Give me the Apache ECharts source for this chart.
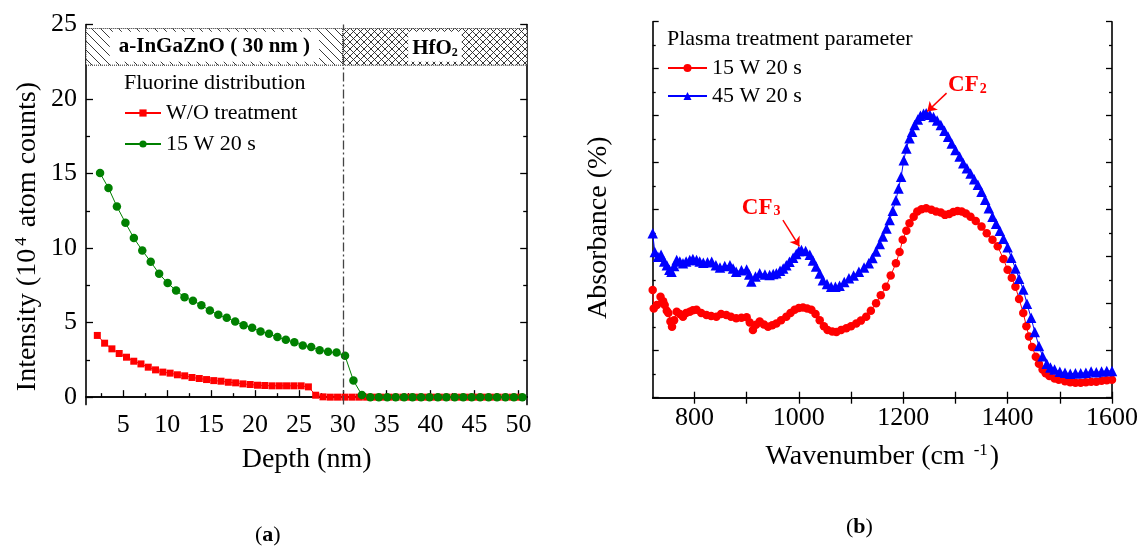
<!DOCTYPE html>
<html>
<head>
<meta charset="utf-8">
<script src="https://cdn.jsdelivr.net/npm/echarts@6/dist/echarts.min.js"></script>
<style>
html, body { margin: 0; background: #fff; }
#main { width: 1141px; height: 546px; }
</style>
</head>
<body>
<div id="main"></div>
<script>
// (a) fluorine depth profile
var depthWO = [2.04, 2.87, 3.70, 4.53, 5.36, 6.19, 7.01, 7.84, 8.67, 9.50, 10.33, 11.16, 11.99, 12.82, 13.65, 14.48, 15.30, 16.13, 16.96, 17.79,
    18.62, 19.45, 20.28, 21.11, 21.94, 22.77, 23.59, 24.42, 25.25, 26.08, 26.91, 27.74, 28.57, 29.40, 30.23, 31.06, 31.88, 32.71, 33.54, 34.37,
    35.20, 36.03, 36.86, 37.69, 38.52, 39.35, 40.17, 41.00, 41.83, 42.66, 43.49, 44.32, 45.15, 45.98, 46.81, 47.64, 48.46, 49.29, 50.12];
var intensityWO = [4.14, 3.62, 3.24, 2.93, 2.68, 2.41, 2.23, 2.01, 1.83, 1.68, 1.61, 1.50, 1.43, 1.32, 1.25, 1.18, 1.11, 1.07, 1.00, 0.96,
    0.89, 0.85, 0.80, 0.78, 0.76, 0.76, 0.76, 0.76, 0.76, 0.69, 0.13, 0.02, 0, 0, 0, 0, 0, 0, 0, 0,
    0, 0, 0, 0, 0, 0, 0, 0, 0, 0, 0, 0, 0, 0, 0, 0, 0, 0, 0];
var depth15 = [2.35, 3.31, 4.27, 5.24, 6.20, 7.16, 8.12, 9.08, 10.05, 11.01, 11.97, 12.93, 13.89, 14.86, 15.82, 16.78, 17.74, 18.70, 19.67, 20.63,
    21.59, 22.55, 23.51, 24.48, 25.44, 26.40, 27.36, 28.32, 29.29, 30.25, 31.21, 32.17, 33.13, 34.10, 35.06, 36.02, 36.98, 37.94, 38.91, 39.87,
    40.83, 41.79, 42.75, 43.72, 44.68, 45.64, 46.60, 47.56, 48.53, 49.49, 50.45];
var intensity15 = [15.03, 14.03, 12.79, 11.70, 10.67, 9.84, 9.08, 8.28, 7.65, 7.15, 6.71, 6.46, 6.17, 5.81, 5.52, 5.32, 5.07, 4.83, 4.65, 4.40,
    4.25, 4.03, 3.85, 3.69, 3.46, 3.36, 3.15, 3.04, 2.99, 2.77, 1.11, 0.15, 0, 0, 0, 0, 0, 0, 0, 0,
    0, 0, 0, 0, 0, 0, 0, 0, 0, 0, 0];
var depthTicks = [5, 10, 15, 20, 25, 30, 35, 40, 45, 50];
var depthMinor = [2.5, 7.5, 12.5, 17.5, 22.5, 27.5, 32.5, 37.5, 42.5, 47.5];
var intensityTicks = [0, 5, 10, 15, 20, 25];
var intensityMinor = [2.5, 7.5, 12.5, 17.5, 22.5];

// (b) FTIR absorbance
var wave15 = [720, 722, 728, 735, 740, 743, 747, 750, 754, 757, 761, 766, 772, 778, 784, 791, 797, 804, 813, 823,
    832, 842, 851, 861, 870, 880, 890, 900, 906, 912, 918, 925, 933, 941, 949, 957, 966, 976, 984, 992,
    1000, 1008, 1016, 1024, 1032, 1040, 1048, 1055, 1064, 1072, 1081, 1091, 1100, 1110, 1119, 1129, 1138, 1148, 1157, 1167,
    1176, 1186, 1193, 1199, 1206, 1212, 1220, 1227, 1235, 1244, 1254, 1263, 1272, 1280, 1288, 1296, 1304, 1312, 1320, 1329,
    1339, 1350, 1360, 1371, 1381, 1392, 1400, 1408, 1415, 1422, 1430, 1436, 1441, 1447, 1454, 1460, 1467, 1473, 1480, 1490,
    1498, 1510, 1520, 1530, 1540, 1550, 1560, 1570, 1580, 1590, 1600];
var abs15 = [2.29, 1.90, 1.97, 2.15, 2.05, 1.97, 1.85, 1.80, 1.62, 1.51, 1.65, 1.83, 1.78, 1.72, 1.80, 1.83, 1.86, 1.87, 1.80, 1.76,
    1.74, 1.72, 1.78, 1.76, 1.72, 1.69, 1.70, 1.71, 1.60, 1.44, 1.55, 1.62, 1.56, 1.51, 1.54, 1.58, 1.65, 1.72, 1.80, 1.87,
    1.91, 1.92, 1.90, 1.87, 1.78, 1.65, 1.52, 1.44, 1.41, 1.40, 1.44, 1.48, 1.52, 1.58, 1.64, 1.72, 1.85, 2.01, 2.18, 2.36,
    2.60, 2.86, 3.10, 3.36, 3.55, 3.71, 3.85, 3.96, 4.01, 4.03, 4.00, 3.96, 3.94, 3.89, 3.91, 3.95, 3.97, 3.96, 3.92, 3.85,
    3.76, 3.64, 3.50, 3.36, 3.22, 2.95, 2.72, 2.55, 2.36, 2.10, 1.80, 1.52, 1.30, 1.08, 0.87, 0.72, 0.60, 0.52, 0.46, 0.41,
    0.38, 0.35, 0.33, 0.32, 0.32, 0.33, 0.34, 0.34, 0.36, 0.37, 0.38];
var wave45 = [720, 724, 730, 736, 742, 747, 752, 756, 761, 766, 772, 778, 784, 791, 797, 804, 810, 817, 825, 833,
    841, 849, 858, 868, 874, 880, 890, 900, 905, 909, 917, 925, 935, 944, 951, 957, 964, 970, 976, 982,
    989, 995, 1000, 1005, 1013, 1021, 1027, 1033, 1040, 1046, 1054, 1062, 1070, 1078, 1087, 1096, 1105, 1115, 1125, 1134,
    1141, 1148, 1155, 1161, 1168, 1174, 1180, 1186, 1191, 1196, 1201, 1206, 1212, 1217, 1222, 1228, 1233, 1239, 1244, 1251,
    1258, 1265, 1272, 1279, 1286, 1293, 1300, 1308, 1315, 1322, 1329, 1336, 1343, 1350, 1357, 1364, 1371, 1378, 1385, 1392,
    1400, 1407, 1415, 1422, 1430, 1437, 1445, 1452, 1460, 1467, 1475, 1482, 1490, 1500, 1510, 1520, 1530, 1540, 1550, 1560,
    1570, 1580, 1590, 1600];
var abs45 = [3.50, 3.10, 3.00, 3.04, 2.90, 2.82, 2.72, 2.68, 2.80, 2.93, 2.90, 2.86, 2.90, 2.93, 2.95, 2.93, 2.90, 2.87, 2.88, 2.89,
    2.82, 2.77, 2.80, 2.82, 2.75, 2.68, 2.71, 2.73, 2.62, 2.47, 2.58, 2.65, 2.62, 2.61, 2.63, 2.65, 2.70, 2.75, 2.82, 2.89,
    2.98, 3.06, 3.12, 3.14, 3.12, 3.04, 2.92, 2.79, 2.64, 2.50, 2.42, 2.36, 2.36, 2.38, 2.46, 2.54, 2.60, 2.68, 2.77, 2.86,
    2.97, 3.11, 3.27, 3.43, 3.60, 3.78, 3.98, 4.20, 4.45, 4.70, 5.05, 5.30, 5.52, 5.66, 5.80, 5.92, 6.00, 6.04, 6.05, 6.02,
    5.97, 5.90, 5.80, 5.68, 5.55, 5.41, 5.27, 5.13, 4.99, 4.88, 4.77, 4.65, 4.53, 4.38, 4.21, 4.03, 3.85, 3.70, 3.55, 3.38,
    3.20, 2.98, 2.75, 2.53, 2.30, 2.00, 1.70, 1.40, 1.10, 0.88, 0.72, 0.64, 0.60, 0.55, 0.53, 0.51, 0.52, 0.52, 0.53, 0.56,
    0.54, 0.56, 0.57, 0.57];
var waveTicks = [800, 900, 1000, 1100, 1200, 1300, 1400, 1500, 1600];
var waveLabels = [800, 1000, 1200, 1400, 1600];

var serif = 'Liberation Serif';

function pairs(xs, ys) {
    return xs.map(function (x, i) { return [x, ys[i]]; });
}

// hatch tiles for the layer band
function hatch(size, cross) {
    var c = document.createElement('canvas');
    c.width = c.height = size;
    var g = c.getContext('2d');
    g.fillStyle = '#fff';
    g.fillRect(0, 0, size, size);
    g.strokeStyle = '#222';
    g.lineWidth = 0.9;
    g.beginPath();
    g.moveTo(0, 0); g.lineTo(size, size);
    if (cross) { g.moveTo(size, 0); g.lineTo(0, size); }
    g.stroke();
    return c;
}
var hatchA = hatch(9, false);
var hatchB = hatch(7, true);

var black = '#000';
var tickStyle = { color: black, width: 1.3 };
var lineAx = { lineStyle: { color: black, width: 1.6 } };
var tickFont = { fontFamily: serif, fontSize: 26, color: black, formatter: function (v) { return String(v); } };

var myChart = echarts.init(document.getElementById('main'));

var option = {
    animation: false,
    backgroundColor: '#fff',
    title: [{
        text: 'Fluorine distribution', left: 124, top: 71, padding: 0,
        textStyle: { fontFamily: serif, fontSize: 22, fontWeight: 'normal', color: black, lineHeight: 24 }
    }, {
        text: 'Plasma treatment parameter', left: 667, top: 27, padding: 0,
        textStyle: { fontFamily: serif, fontSize: 22, fontWeight: 'normal', color: black, lineHeight: 24 }
    }, {
        text: '({b|a})', left: 255, top: 524, padding: 0,
        textStyle: { fontFamily: serif, fontSize: 22, fontWeight: 'normal', color: black,
            rich: { b: { fontFamily: serif, fontSize: 22, fontWeight: 'bold', color: black } } }
    }, {
        text: '({b|b})', left: 846, top: 516, padding: 0,
        textStyle: { fontFamily: serif, fontSize: 22, fontWeight: 'normal', color: black,
            rich: { b: { fontFamily: serif, fontSize: 22, fontWeight: 'bold', color: black } } }
    }],
    legend: [{
        data: ['W/O treatment', '15 W 20 s'],
        orient: 'vertical', left: 124, top: 102, padding: 0,
        itemWidth: 36, itemHeight: 9, itemGap: 9, selectedMode: false,
        textStyle: { fontFamily: serif, fontSize: 22, color: black, lineHeight: 22 }
    }, {
        data: ['15 W 20 s ', '45 W 20 s'],
        orient: 'vertical', left: 667, top: 57, padding: 0,
        itemWidth: 39, itemHeight: 10, itemGap: 6, selectedMode: false,
        textStyle: { fontFamily: serif, fontSize: 22, color: black, lineHeight: 22 }
    }],
    grid: [
        { left: 86, top: 24.5, right: 613.8, bottom: 141.4 },
        { left: 652.7, top: 21.7, right: 28.3, bottom: 148.3 }
    ],
    xAxis: [{
        gridIndex: 0, type: 'value', position: 'bottom', min: 0.75, max: 51,
        axisLine: lineAx,
        axisTick: { inside: true, length: 7, customValues: depthTicks, lineStyle: tickStyle },
        axisLabel: Object.assign({ customValues: depthTicks, margin: 8 }, tickFont),
        splitLine: { show: false },
        name: 'Depth (nm)', nameLocation: 'middle', nameGap: 41,
        nameTextStyle: { fontFamily: serif, fontSize: 28, color: black }
    }, {
        gridIndex: 0, type: 'value', position: 'bottom', min: 0.75, max: 51,
        axisLine: { show: false },
        axisTick: { inside: true, length: 4, customValues: depthMinor, lineStyle: tickStyle },
        axisLabel: { show: false }, splitLine: { show: false }
    }, {
        gridIndex: 0, type: 'value', position: 'top', min: 0.75, max: 51,
        axisLine: lineAx, axisTick: { show: false }, axisLabel: { show: false }, splitLine: { show: false }
    }, {
        gridIndex: 1, type: 'value', position: 'bottom', min: 720, max: 1600,
        axisLine: lineAx,
        axisTick: { inside: true, length: 6, customValues: waveTicks, lineStyle: tickStyle },
        axisLabel: Object.assign({ customValues: waveLabels, margin: 7 }, tickFont),
        splitLine: { show: false },
        name: 'Wavenumber (cm {sup|-1})', nameLocation: 'middle', nameGap: 44,
        nameTextStyle: { fontFamily: serif, fontSize: 28, color: black,
            rich: { sup: { fontFamily: serif, fontSize: 17, color: black, verticalAlign: 'top', padding: [0, 2, 12, 2] } } }
    }, {
        gridIndex: 1, type: 'value', position: 'top', min: 720, max: 1600,
        axisLine: lineAx,
        axisTick: { inside: true, length: 6, customValues: waveTicks, lineStyle: tickStyle },
        axisLabel: { show: false }, splitLine: { show: false }
    }],
    yAxis: [{
        gridIndex: 0, type: 'value', position: 'left', min: -0.5, max: 25,
        axisLine: lineAx,
        axisTick: { inside: true, length: 7, customValues: intensityTicks, lineStyle: tickStyle },
        axisLabel: Object.assign({ customValues: intensityTicks, margin: 9 }, tickFont),
        splitLine: { show: false },
        name: 'Intensity (10{sup|4} atom counts)', nameLocation: 'middle', nameGap: 44,
        nameTextStyle: { fontFamily: serif, fontSize: 28, color: black, padding: [0, 44, 0, 0],
            rich: { sup: { fontFamily: serif, fontSize: 17, color: black, verticalAlign: 'top', padding: [0, 3, 12, 3] } } }
    }, {
        gridIndex: 0, type: 'value', position: 'left', min: -0.5, max: 25,
        axisLine: { show: false },
        axisTick: { inside: true, length: 4, customValues: intensityMinor, lineStyle: tickStyle },
        axisLabel: { show: false }, splitLine: { show: false }
    }, {
        gridIndex: 0, type: 'value', position: 'right', min: -0.5, max: 25,
        axisLine: lineAx,
        axisTick: { inside: true, length: 7, customValues: intensityTicks, lineStyle: tickStyle },
        axisLabel: { show: false }, splitLine: { show: false }
    }, {
        gridIndex: 0, type: 'value', position: 'right', min: -0.5, max: 25,
        axisLine: { show: false },
        axisTick: { inside: true, length: 4, customValues: intensityMinor, lineStyle: tickStyle },
        axisLabel: { show: false }, splitLine: { show: false }
    }, {
        gridIndex: 1, type: 'value', position: 'left', min: 0, max: 8, interval: 1,
        axisLine: lineAx,
        axisTick: { inside: true, length: 6, lineStyle: tickStyle },
        minorTick: { show: true, splitNumber: 2, length: 3, lineStyle: tickStyle },
        axisLabel: { show: false }, splitLine: { show: false },
        name: 'Absorbance (%)', nameLocation: 'middle', nameGap: 40,
        nameTextStyle: { fontFamily: serif, fontSize: 28, color: black, padding: [0, 36, 0, 0] }
    }, {
        gridIndex: 1, type: 'value', position: 'right', min: 0, max: 8, interval: 1,
        axisLine: lineAx,
        axisTick: { inside: true, length: 6, lineStyle: tickStyle },
        minorTick: { show: true, splitNumber: 2, length: 3, lineStyle: tickStyle },
        axisLabel: { show: false }, splitLine: { show: false }
    }],
    series: [{
        name: 'W/O treatment', type: 'line', xAxisIndex: 0, yAxisIndex: 0,
        data: pairs(depthWO, intensityWO),
        symbol: 'rect', symbolSize: 7, showAllSymbol: true,
        itemStyle: { color: '#ff0000' }, lineStyle: { color: '#ff0000', width: 1 },
        markArea: {
            silent: true,
            data: [[{
                xAxis: 0.75, yAxis: 22.27,
                itemStyle: { color: { image: hatchA, repeat: 'repeat' }, borderColor: '#222', borderWidth: 1, borderType: 'dotted' },
                label: { show: true, position: 'inside', formatter: 'a-InGaZnO ( 30 nm )', fontFamily: serif, fontSize: 21,
                    fontWeight: 'bold', color: black, backgroundColor: '#fff', padding: [6, 9, 3, 9] }
            }, { xAxis: 30, yAxis: 24.73 }], [{
                xAxis: 30, yAxis: 22.27,
                itemStyle: { color: { image: hatchB, repeat: 'repeat' }, borderColor: '#222', borderWidth: 1, borderType: 'dotted' },
                label: { show: true, position: 'inside', formatter: '{b|HfO}{s|2}', backgroundColor: '#fff', padding: [6, 4, 3, 4],
                    rich: { b: { fontFamily: serif, fontSize: 21, fontWeight: 'bold', color: black },
                        s: { fontFamily: serif, fontSize: 12, fontWeight: 'bold', color: black, padding: [9, 0, 0, 0] } } }
            }, { xAxis: 51, yAxis: 24.73 }]]
        },
        markLine: {
            silent: true, symbol: ['none', 'none'], z: 10,
            lineStyle: { color: '#444', width: 1.3, type: [9, 3, 2, 3] },
            label: { show: false },
            data: [{ xAxis: 30 }]
        }
    }, {
        name: '15 W 20 s', type: 'line', xAxisIndex: 0, yAxisIndex: 0,
        data: pairs(depth15, intensity15),
        symbol: 'circle', symbolSize: 8.5, showAllSymbol: true,
        itemStyle: { color: '#008000' }, lineStyle: { color: '#008000', width: 1 }
    }, {
        name: '15 W 20 s ', type: 'line', xAxisIndex: 3, yAxisIndex: 4,
        data: pairs(wave15, abs15),
        symbol: 'circle', symbolSize: 8.5, showAllSymbol: true,
        itemStyle: { color: '#ff0000' }, lineStyle: { color: '#ff0000', width: 1 },
        markLine: {
            silent: true, symbol: ['none', 'arrow'], symbolSize: 9,
            lineStyle: { color: '#ff0000', width: 1.5, type: 'solid' },
            label: { show: false },
            data: [
                [{ coord: [1283, 6.48] }, { coord: [1246, 6.09] }],
                [{ coord: [969.5, 3.78] }, { coord: [1001, 3.22] }]
            ]
        },
        markPoint: {
            silent: true, symbol: 'circle', symbolSize: 0,
            label: {
                show: true, position: 'inside', color: '#ff0000',
                rich: {
                    m: { fontFamily: serif, fontSize: 23, fontWeight: 'bold', color: '#ff0000' },
                    s: { fontFamily: serif, fontSize: 14, fontWeight: 'bold', color: '#ff0000', padding: [8, 0, 0, 1] }
                }
            },
            data: [
                { coord: [1323, 6.65], label: { formatter: '{m|CF}{s|2}' } },
                { coord: [927.7, 4.04], label: { formatter: '{m|CF}{s|3}' } }
            ]
        }
    }, {
        name: '45 W 20 s', type: 'line', xAxisIndex: 3, yAxisIndex: 4,
        data: pairs(wave45, abs45),
        symbol: 'triangle', symbolSize: 10.5, showAllSymbol: true,
        itemStyle: { color: '#0000ff' }, lineStyle: { color: '#0000ff', width: 1 }
    }]
};

myChart.setOption(option);
</script>
</body>
</html>
